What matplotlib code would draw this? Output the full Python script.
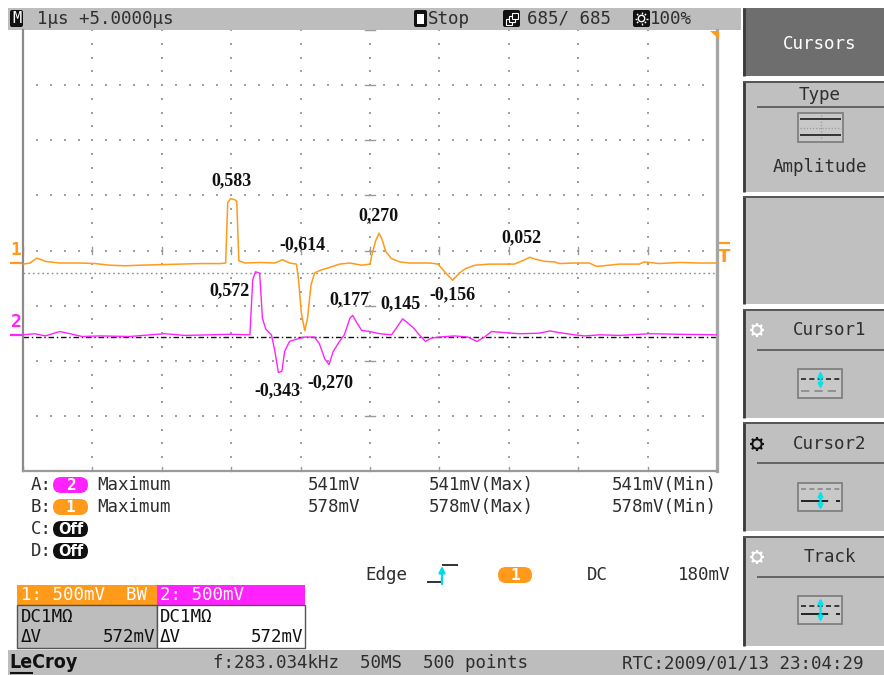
import matplotlib
matplotlib.use("Agg")
import matplotlib.pyplot as plt
from matplotlib.patches import Rectangle, FancyBboxPatch, Circle, Polygon
import numpy as np

# ---------------------------------------------------------------- data
# Channel 1 (orange): time in µs, amplitude in V
ch1_t = [0.00, 0.10, 0.20, 0.32, 0.53, 0.82, 1.04, 1.25, 1.47, 1.68, 1.97,
         2.26, 2.55, 2.84, 2.92, 2.95, 2.99, 3.05, 3.08, 3.11, 3.20, 3.41,
         3.63, 3.74, 3.84, 3.94, 3.97, 4.01, 4.06, 4.10, 4.15, 4.20, 4.31,
         4.42, 4.56, 4.71, 4.88, 5.00, 5.03, 5.08, 5.13, 5.17, 5.23, 5.31,
         5.43, 5.57, 5.86, 5.98, 6.09, 6.19, 6.29, 6.38, 6.51, 6.72, 7.08,
         7.23, 7.30, 7.38, 7.52, 7.66, 7.73, 7.95, 8.16, 8.26, 8.37, 8.59,
         8.88, 8.95, 9.17, 9.46, 9.75, 10.0]
ch1_v = [-0.010, 0.000, 0.045, 0.015, 0.000, 0.000, -0.005, -0.020, -0.025,
         -0.020, -0.015, -0.010, -0.005, -0.005, 0.000, 0.550, 0.583, 0.575,
         0.560, 0.020, 0.000, 0.005, 0.000, 0.030, 0.000, -0.010, -0.150,
         -0.450, -0.614, -0.500, -0.200, -0.090, -0.060, -0.040, -0.010,
         0.000, -0.020, -0.010, 0.080, 0.200, 0.270, 0.220, 0.100, 0.040,
         0.010, 0.000, 0.000, -0.010, -0.090, -0.156, -0.090, -0.050, -0.020,
         -0.010, -0.010, 0.030, 0.052, 0.035, 0.015, 0.010, -0.005, 0.000,
         0.000, -0.030, -0.025, -0.010, -0.010, 0.010, -0.005, 0.005, 0.000,
         0.000]

# Channel 2 (magenta): time in µs, amplitude in V
ch2_t = [0.00, 0.17, 0.32, 0.53, 0.68, 0.85, 1.11, 1.54, 1.83, 2.04, 2.33,
         2.69, 2.98, 3.27, 3.31, 3.35, 3.41, 3.45, 3.50, 3.58, 3.63, 3.68,
         3.73, 3.77, 3.84, 3.94, 4.06, 4.20, 4.27, 4.35, 4.41, 4.47, 4.56,
         4.63, 4.71, 4.75, 4.81, 4.88, 5.00, 5.14, 5.31, 5.40, 5.47, 5.54,
         5.63, 5.71, 5.80, 5.88, 6.00, 6.22, 6.41, 6.54, 6.65, 6.75, 6.94,
         7.16, 7.44, 7.59, 7.73, 7.95, 8.09, 8.31, 8.59, 9.03, 9.46, 10.0]
ch2_v = [0.000, 0.010, -0.010, 0.030, 0.010, -0.015, -0.010, -0.015, 0.000,
         0.010, -0.005, 0.000, 0.005, 0.000, 0.500, 0.572, 0.560, 0.150,
         0.050, 0.000, -0.150, -0.343, -0.330, -0.150, -0.060, -0.040,
         -0.020, -0.020, -0.080, -0.220, -0.270, -0.150, -0.060, 0.000,
         0.150, 0.177, 0.110, 0.040, 0.030, 0.010, 0.000, 0.080, 0.145,
         0.110, 0.060, 0.000, -0.060, -0.030, -0.020, -0.010, -0.020, -0.060,
         -0.020, 0.030, 0.020, 0.010, 0.015, 0.035, 0.020, 0.000, -0.010,
         0.000, -0.005, 0.010, 0.005, 0.000]

# times of the annotated extremes on each channel
ch1_marks = [2.99, 4.06, 5.13, 6.19, 7.30]
ch2_marks = [3.35, 3.68, 4.41, 4.75, 5.47]

VOLTS_PER_DIV = 0.5
CH1_ZERO_DIV = -0.227
CH2_ZERO_DIV = -1.53
TRIG_LEVEL_V = 0.18

meas_rows = [("A:", "2", "Maximum", "541mV", "541mV(Max)", "541mV(Min)"),
             ("B:", "1", "Maximum", "578mV", "578mV(Max)", "578mV(Min)")]

# ---------------------------------------------------------------- style
ORANGE = "#ff9a1a"
MAGENTA = "#ff22ff"
BAR_GRAY = "#bdbdbd"
PANEL_GRAY = "#c0c0c0"
TXT = "#2e2e2e"
MONO = ["DejaVu Sans Mono"]
FS = 12.6

W, H = 884, 675
fig = plt.figure(figsize=(W / 100, H / 100), dpi=100)
fig.patch.set_facecolor("white")


def pixel_axes(z):
    a = fig.add_axes([0, 0, 1, 1], zorder=z)
    a.set_xlim(0, W)
    a.set_ylim(H, 0)
    a.axis("off")
    a.patch.set_alpha(0)
    return a


# overlay in pixel coordinates (y grows downward)
ov = pixel_axes(0)
top = pixel_axes(5)


def rect(x0, y0, x1, y1, fc, ec="none", lw=0, z=1):
    ov.add_patch(Rectangle((x0, y0), x1 - x0, y1 - y0, fc=fc, ec=ec, lw=lw, zorder=z))


def pill(x0, y0, x1, y1, fc, z=3):
    r = (y1 - y0) / 2
    ov.add_patch(FancyBboxPatch((x0, y0), x1 - x0, y1 - y0,
                                boxstyle=f"round,pad=0,rounding_size={r}",
                                fc=fc, ec="none", zorder=z))


def txt(x, y, s, size=FS, color=TXT, ha="left", va="center", family=MONO, ax_=None, **kw):
    (ax_ or ov).text(x, y, s, fontsize=size, color=color, ha=ha, va=va, family=family,
                     zorder=5, **kw)


def line(xs, ys, color, lw=1.0, ls="-", z=4, ax_=None):
    (ax_ or ov).plot(xs, ys, color=color, lw=lw, ls=ls, zorder=z, solid_capstyle="butt")


# ---------------------------------------------------------------- top bar
rect(8, 8, 741, 30, BAR_GRAY)
ov.add_patch(FancyBboxPatch((10, 10), 13, 17, boxstyle="round,pad=0,rounding_size=2",
                            fc="#111111", ec="none", zorder=3))
txt(16.5, 18.5, "M", size=11, color="white", ha="center")
txt(37, 18.5, "1µs +5.0000µs")
# stop icon
ov.add_patch(FancyBboxPatch((414, 10), 13, 17, boxstyle="round,pad=0,rounding_size=2",
                            fc="#111111", ec="none", zorder=3))
rect(417, 13.5, 424, 23.5, "white", z=4)
txt(428, 18.5, "Stop")
# sweep-count icon
ov.add_patch(FancyBboxPatch((503, 10), 17, 17, boxstyle="round,pad=0,rounding_size=2",
                            fc="#111111", ec="none", zorder=3))
for k in range(3):
    rect(506 + 3 * k, 19 - 3 * k, 512 + 3 * k, 25 - 3 * k, "#111111", ec="white", lw=0.8, z=4)
txt(527, 18.5, "685/ 685")
# intensity icon
ov.add_patch(FancyBboxPatch((633, 10), 17, 17, boxstyle="round,pad=0,rounding_size=2",
                            fc="#111111", ec="none", zorder=3))
ov.add_patch(Circle((641.5, 18.5), 3.2, fc="none", ec="white", lw=1.0, zorder=4))
for a in np.linspace(0, 2 * np.pi, 8, endpoint=False):
    line([641.5 + 4.5 * np.cos(a), 641.5 + 6.5 * np.cos(a)],
         [18.5 + 4.5 * np.sin(a), 18.5 + 6.5 * np.sin(a)], "white", lw=1.0, z=4)
txt(650, 18.5, "100%")

# ---------------------------------------------------------------- right menu
rect(743, 8, 884, 76, "#6e6e6e")
line([744, 744], [8, 76], "#3a3a3a", lw=2)
txt(820, 44, "Cursors", color="white", ha="center")

boxes = [(81, 192), (196, 304), (309, 418), (422, 531), (536, 646)]
for y0, y1 in boxes:
    rect(743, y0, 884, y1, PANEL_GRAY)
    line([744, 744], [y0, y1], "#3a3a3a", lw=2)
    line([743, 884], [y0 + 0.8, y0 + 0.8], "#555555", lw=1.4)

# Type box
txt(820, 95.5, "Type", ha="center")
line([757, 884], [107, 107], "#555555", lw=1.2)
rect(798, 113, 843, 142, "#c8c8c8", ec="#7a7a7a", lw=1.2, z=3)
line([800, 841], [127.5, 127.5], "#9a9a9a", lw=0.9, ls=(0, (1, 1.5)))
line([820.5, 820.5], [115, 140], "#9a9a9a", lw=0.9, ls=(0, (1, 1.5)))
line([800, 841], [119, 119], "#333333", lw=1.4)
line([800, 841], [134.5, 134.5], "#333333", lw=1.4)
txt(820, 167.5, "Amplitude", ha="center")


def gear(cx, cy, color):
    ov.add_patch(Circle((cx, cy), 4.6, fc="none", ec=color, lw=1.4, zorder=4))
    for a in np.linspace(0, 2 * np.pi, 8, endpoint=False):
        line([cx + 4.6 * np.cos(a), cx + 7.2 * np.cos(a)],
             [cy + 4.6 * np.sin(a), cy + 7.2 * np.sin(a)], color, lw=1.6)


def cyan_arrow(x, y0, y1):
    ov.annotate("", xy=(x, y0), xytext=(x, y1), zorder=6,
                arrowprops=dict(arrowstyle="<|-|>", color="#00e5ee", lw=1.6,
                                mutation_scale=7, shrinkA=0, shrinkB=0))


# Cursor1
gear(757, 330, "white")
txt(830, 330, "Cursor1", ha="center")
line([757, 884], [350, 350], "#555555", lw=1.2)
rect(798, 369, 842, 398, "#c8c8c8", ec="#7a7a7a", lw=1.2, z=3)
line([801, 840], [379, 379], "#222222", lw=1.2, ls=(0, (3, 2)))
line([801, 840], [391, 391], "#888888", lw=1.2, ls=(0, (5, 3)))
cyan_arrow(820.5, 371, 389)

# Cursor2
gear(757, 444, "#111111")
txt(830, 444, "Cursor2", ha="center")
line([757, 884], [463, 463], "#555555", lw=1.2)
rect(798, 483, 842, 511, "#c8c8c8", ec="#7a7a7a", lw=1.2, z=3)
line([801, 840], [489, 489], "#888888", lw=1.2, ls=(0, (3, 2)))
line([801, 840], [501, 501], "#222222", lw=1.4, ls=(0, (14, 4)))
cyan_arrow(820.5, 491, 510)

# Track
gear(757, 557, "white")
txt(830, 557, "Track", ha="center")
line([757, 884], [577, 577], "#555555", lw=1.2)
rect(798, 596, 842, 624, "#c8c8c8", ec="#7a7a7a", lw=1.2, z=3)
line([801, 840], [606, 606], "#222222", lw=1.2, ls=(0, (3, 2)))
line([801, 840], [614, 614], "#222222", lw=1.4, ls=(0, (14, 4)))
cyan_arrow(820.5, 598, 622)

# ---------------------------------------------------------------- measurements
row_y = [485, 507, 529, 551]
pill_col = {"2": MAGENTA, "1": ORANGE}
for (lab, ch, kind, val, vmax, vmin), y in zip(meas_rows, row_y):
    txt(31, y, lab)
    pill(53, y - 8, 88, y + 8, pill_col[ch])
    txt(70.5, y + 0.5, ch, color="white", ha="center", fontweight="bold", size=11.5)
    txt(97, y, kind)
    txt(308, y, val)
    txt(429, y, vmax)
    txt(717, y, vmin, ha="right")
for lab, y in zip(["C:", "D:"], row_y[2:]):
    txt(31, y, lab)
    pill(53, y - 8, 88, y + 8, "#111111")
    txt(70.5, y + 0.5, "Off", color="white", ha="center", fontweight="bold", size=10.5,
        family=["DejaVu Sans"])

# trigger line
txt(365, 575, "Edge")
line([427, 442], [582, 582], "#222222", lw=1.3)
line([442, 458], [565, 565], "#222222", lw=1.3)
ov.annotate("", xy=(442, 566), xytext=(442, 584), zorder=6,
            arrowprops=dict(arrowstyle="-|>", color="#00d8f0", lw=1.6,
                            mutation_scale=9, shrinkA=0, shrinkB=0))
pill(498, 567, 532, 583, ORANGE)
txt(515, 575.5, "1", color="white", ha="center", fontweight="bold", size=11.5)
txt(587, 575, "DC")
txt(730, 575, "180mV", ha="right")

# ---------------------------------------------------------------- channel boxes
rect(17, 585, 157, 605, ORANGE, z=2)
rect(157, 585, 305, 605, MAGENTA, z=2)
rect(17, 605, 157, 648, "#bdbdbd", ec="#555555", lw=1.0, z=2)
rect(157, 605, 305, 648, "white", ec="#555555", lw=1.0, z=2)
txt(21, 595, "1: 500mV  BW", color="white")
txt(160, 595, "2: 500mV", color="white")
for x0, x1 in [(21, 155), (160, 303)]:
    txt(x0, 617, "DC1MΩ", color="#111111")
    txt(x0, 637, "ΔV", color="#111111")
    txt(x1, 637, "572mV", color="#111111", ha="right")

# ---------------------------------------------------------------- bottom bar
rect(8, 650, 884, 675, BAR_GRAY)
txt(9, 663, "LeCroy", color="#111111", size=14, family=["DejaVu Sans"],
    fontweight="bold", fontstretch="condensed")
line([10, 33], [673, 673], "#111111", lw=1.5)
txt(213, 663, "f:283.034kHz  50MS  500 points")
txt(864, 663, "RTC:2009/01/13 23:04:29", ha="right")

# ---------------------------------------------------------------- channel markers
txt(16, 250, "1", color=ORANGE, ha="center", size=13, fontweight="bold")
txt(16, 322, "2", color=MAGENTA, ha="center", size=13, fontweight="bold")

# ---------------------------------------------------------------- scope screen
L, R, T, B = 23, 717, 30, 471
ax = fig.add_axes([L / W, 1 - B / H, (R - L) / W, (B - T) / H], zorder=2)
ax.set_facecolor("white")
ax.set_xlim(0, 10)
ax.set_ylim(-4, 4)
ax.set_xticks([])
ax.set_yticks([])
ax.spines["top"].set_visible(False)
ax.spines["left"].set_color("#8a8a8a")
ax.spines["left"].set_linewidth(1.6)
ax.spines["bottom"].set_color("#9a9a9a")
ax.spines["bottom"].set_linewidth(1.6)
ax.spines["right"].set_color("#a6a6a6")
ax.spines["right"].set_linewidth(2.4)

DOT = "#a0a0a0"
# dotted graticule
for gx in range(1, 10):
    ys = np.arange(-4, 4.001, 0.25)
    ax.scatter(np.full_like(ys, gx), ys, s=1.5, marker="s", c=DOT, lw=0, zorder=1)
for gy in range(-3, 4):
    xs = np.arange(0, 10.001, 0.2)
    ax.scatter(xs, np.full_like(xs, gy), s=1.5, marker="s", c=DOT, lw=0, zorder=1)
# centre crosshair ticks
for gy in range(-4, 5):
    ax.plot([4.93, 5.07], [gy, gy], color="#9a9a9a", lw=1.0, zorder=1)
for gx in range(0, 11):
    ax.plot([gx, gx], [-0.07, 0.07], color="#9a9a9a", lw=1.0, zorder=1)
    ax.plot([gx, gx], [-4, -3.92], color="#9a9a9a", lw=1.0, zorder=1, clip_on=False)

# cursor lines
ax.axhline(-0.41, color="#8c8c8c", lw=1.0, ls=(0, (1.2, 2.2)), zorder=2)
ax.axhline(-1.57, color="#111111", lw=1.0, ls=(0, (4, 2, 1, 2)), zorder=2)

# traces
y1 = CH1_ZERO_DIV + np.array(ch1_v) / VOLTS_PER_DIV
y2 = CH2_ZERO_DIV + np.array(ch2_v) / VOLTS_PER_DIV
ax.plot(ch1_t, y1, color=ORANGE, lw=1.1, zorder=4)
ax.plot(ch2_t, y2, color=MAGENTA, lw=1.0, zorder=3)

# value labels beside the extremes (offsets in pixels, x right / y up)
lab_font = dict(family=["Liberation Serif", "DejaVu Serif"], fontweight="bold",
                fontsize=13, color="#111111", ha="center", va="center", zorder=6)
ch1_off = [(1, 18), (-2, 86), (-1, 18), (0, -15), (-8, 20)]
ch2_off = [(-26, -19), (-1, -18), (1, -18), (-3, 16), (-2, 15)]
for t, off in zip(ch1_marks, ch1_off):
    v = ch1_v[ch1_t.index(t)]
    ax.annotate(f"{v:.3f}".replace(".", ","),
                xy=(t, CH1_ZERO_DIV + v / VOLTS_PER_DIV),
                xytext=off, textcoords="offset pixels", **lab_font)
for t, off in zip(ch2_marks, ch2_off):
    v = ch2_v[ch2_t.index(t)]
    ax.annotate(f"{v:.3f}".replace(".", ","),
                xy=(t, CH2_ZERO_DIV + v / VOLTS_PER_DIV),
                xytext=off, textcoords="offset pixels", **lab_font)


# ground-level markers and trigger marks (pixel overlay)
def div_to_px(d):
    return (T + B) / 2 - d * (B - T) / 8


line([10, 23], [div_to_px(CH1_ZERO_DIV)] * 2, ORANGE, lw=1.6)
line([10, 23], [div_to_px(CH2_ZERO_DIV)] * 2, MAGENTA, lw=1.6)
trig_px = div_to_px(CH1_ZERO_DIV + TRIG_LEVEL_V / VOLTS_PER_DIV)
line([719, 730], [trig_px, trig_px], ORANGE, lw=1.6)
txt(724.5, trig_px + 14, "T", color=ORANGE, ha="center", size=13, fontweight="bold",
    family=["DejaVu Sans"])
top.add_patch(Polygon([[710, 31], [719, 31], [719, 39]], closed=True, fc=ORANGE,
                      ec="none", zorder=6))

fig.savefig("out.png", dpi=100, facecolor="white")
